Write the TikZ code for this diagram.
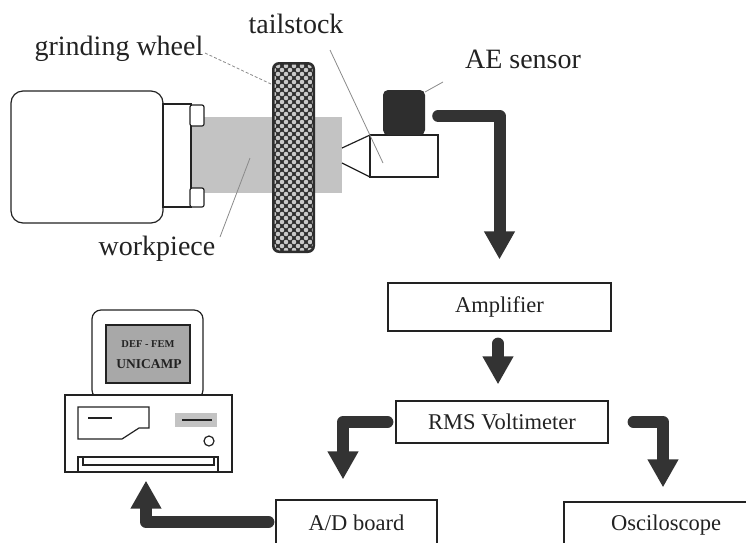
\documentclass[tikz,border=0pt]{standalone}
\usepackage{fontspec}
\setmainfont{Liberation Serif}
\usetikzlibrary{arrows.meta,calc}
\definecolor{ink}{HTML}{222222}
\definecolor{arrowcol}{HTML}{333333}
\definecolor{steel}{HTML}{C3C3C3}
\definecolor{screen}{HTML}{A8A8A8}
\definecolor{wheeldark}{HTML}{2E2E2E}
\definecolor{wheelhole}{HTML}{C9C9C9}
\definecolor{leader}{HTML}{8A8A8A}

\begin{document}
\begin{tikzpicture}[x=1pt,y=-1pt,
  outline/.style={draw=ink,line width=1.2pt},
  blockbox/.style={draw=ink,line width=1.2pt,fill=white,inner sep=0pt,
    font=\fontsize{22.5}{26}\selectfont,text=ink},
  flowarrow/.style={draw=arrowcol,line width=12pt,line cap=round,line join=round,
    -{Triangle[width=29pt,length=28pt]}},
  leaderline/.style={draw=leader,line width=0.8pt},
  caption/.style={font=\fontsize{28}{32}\selectfont,inner sep=0pt,anchor=base,text=ink},
]
\useasboundingbox (0,0) rectangle (746,542);
\clip (0,0) rectangle (746,542);

% ---------- grinding machine ----------
% workpiece between centres
\fill[steel] (190,117) rectangle (342,193);
\coordinate (workPt) at (250,158);

% headstock with chuck
\draw[outline,fill=white,rounded corners=12pt] (11,91) rectangle (163,223);
\draw[outline,fill=white] (163,104) rectangle (191,207);
\draw[outline,fill=white,rounded corners=2pt] (190,105) rectangle (204,126);
\draw[outline,fill=white,rounded corners=2pt] (190,188) rectangle (204,207);

% grinding wheel (knurled)
\fill[wheeldark,rounded corners=7pt] (272,62) rectangle (315,253);
\begin{scope}
  \clip[rounded corners=5pt] (274.5,64.5) rectangle (312.5,250.5);
  \foreach \j in {0,...,47}{
    \foreach \i in {0,...,5}{
      \fill[wheelhole] ({270+8*\i+4*mod(\j,2)},{66+4*\j}) circle[radius=2.3pt];
    }
  }
\end{scope}
\coordinate (wheelPt) at (271,84);

% tailstock with centre
\draw[outline] (342,148) -- (370,135);
\draw[outline] (342,163) -- (370,177);
\draw[outline,fill=white] (370,135) rectangle (438,177);
\coordinate (tailPt) at (383,163);

% acoustic emission sensor
\node[fill=wheeldark,rounded corners=5pt,minimum width=42pt,minimum height=45pt,
  inner sep=0pt] (sensor) at (404,112.5) {};
\coordinate (sensorPt) at (425,92);

% ---------- labels and leaders ----------
\node[caption] (lblwheel) at (119,55) {grinding wheel};
\node[caption] (lbltail) at (296,33) {tailstock};
\node[caption] (lblae) at (523,68) {AE sensor};
\node[caption] (lblwork) at (157,255) {workpiece};
\coordinate (wheelTag) at (205,53);
\coordinate (tailTag) at (330,50);
\coordinate (aeTag) at (443,82);
\coordinate (workTag) at (220,237);
\draw[leaderline,densely dashed] (wheelTag) -- (wheelPt);
\draw[leaderline] (tailTag) -- (tailPt);
\draw[leaderline] (aeTag) -- (sensorPt);
\draw[leaderline] (workTag) -- (workPt);

% ---------- signal chain ----------
\node[blockbox,minimum width=223pt,minimum height=48pt] (amp) at (499.5,307) {Amplifier};
\node[blockbox,minimum width=212pt,minimum height=42pt] (rms) at (502,422) {RMS Voltimeter};
\node[blockbox,minimum width=161pt,minimum height=46pt] (ad) at (356.5,523) {A/D board};
\node[blockbox,minimum width=204pt,minimum height=46pt] (osc) at (666,525) {Osciloscope};

% ---------- computer ----------
\draw[outline,fill=white,rounded corners=9pt] (92,310) rectangle (203,399);
\draw[outline,fill=screen] (106,325) rectangle (190,383);
\node[font=\bfseries\fontsize{10.5}{12}\selectfont,text=ink,inner sep=0pt] (scrtop) at (148,344) {DEF - FEM};
\node[font=\bfseries\fontsize{13.5}{15}\selectfont,text=ink,inner sep=0pt] (scrbot) at (149,364) {UNICAMP};
\node[outline,fill=white,minimum width=167pt,minimum height=77pt,inner sep=0pt] (pc) at (148.5,433.5) {};
% floppy drive
\draw[outline] (78,407) -- (149,407) -- (149,428) -- (139,428) -- (122,439) -- (78,439) -- cycle;
\draw[outline] (88,418) -- (112,418);
% slot and button
\fill[steel] (175,413) rectangle (217,427);
\draw[ink,line width=2pt] (182,420) -- (212,420);
\draw[outline] (209,441) circle[radius=5pt];
% drawer
\draw[outline] (78,472) -- (78,457) -- (218,457) -- (218,472);
\draw[outline] (83,457) -- (83,465) -- (214,465) -- (214,457);

% ---------- signal arrows ----------
\coordinate (cableStart) at ($(sensor.east)+(13,3.5)$);
\draw[flowarrow] (cableStart) -| ($(amp.north)+(0,-23)$);
\draw[flowarrow] ($(amp.south)+(-1.5,12)$) -- ($(rms.north -| amp.south)+(-1.5,-16)$);
\draw[flowarrow] ($(rms.east)+(25,0)$) -| ($(osc.north)+(-3,-14)$);
\draw[flowarrow] ($(rms.west)+(-8,0)$) -| ($(ad.north)+(-13.5,-20)$);
\draw[flowarrow] ($(ad.west)+(-7,-1)$) -| ($(pc.south)+(-2.5,8)$);
\end{tikzpicture}
\end{document}
